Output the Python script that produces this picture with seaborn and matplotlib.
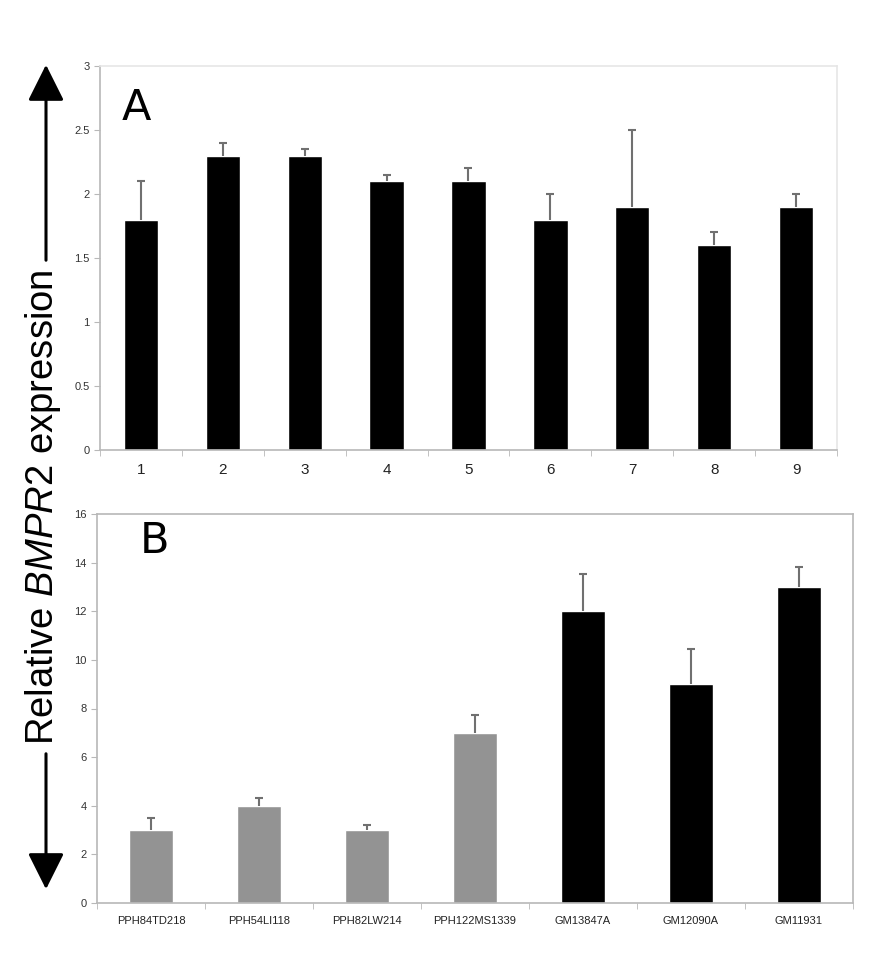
import numpy as np
import pandas as pd
import matplotlib
matplotlib.use("Agg")
import matplotlib.pyplot as plt
import seaborn as sns

# Panel A data
a_labels = ["1", "2", "3", "4", "5", "6", "7", "8", "9"]
a_values = [1.8, 2.3, 2.3, 2.1, 2.1, 1.8, 1.9, 1.6, 1.9]
a_errors = [0.3, 0.1, 0.05, 0.05, 0.1, 0.2, 0.6, 0.1, 0.1]

# Panel B data
b_labels = ["PPH84TD218", "PPH54LI118", "PPH82LW214", "PPH122MS1339",
            "GM13847A", "GM12090A", "GM11931"]
b_values = [3, 4, 3, 7, 12, 9, 13]
b_errors = [0.5, 0.3, 0.2, 0.75, 1.55, 1.45, 0.8]
b_groups = ["patient", "patient", "patient", "patient", "control", "control", "control"]

sns.set_style("white")
plt.rcParams["font.family"] = ["Liberation Sans", "DejaVu Sans"]
plt.rcParams["mathtext.fontset"] = "custom"
plt.rcParams["mathtext.rm"] = "Liberation Sans"
plt.rcParams["mathtext.it"] = "Liberation Sans:italic"

fig = plt.figure(figsize=(8.87, 9.68), dpi=100)
W, H = 887, 968
axA = fig.add_axes([100 / W, 1 - 450 / H, 737 / W, 384 / H])
axB = fig.add_axes([97 / W, 1 - 903 / H, 756 / W, 389 / H])

spine_col = "#b8b8b8"


def style_axis(ax, n, ymax, ystep, fmt, xfs):
    ax.set_xlim(-0.5, n - 0.5)
    ax.set_ylim(0, ymax)
    ticks = np.arange(0, ymax + ystep / 2, ystep)
    ax.set_yticks(ticks)
    ax.set_yticklabels([fmt(t) for t in ticks], fontsize=8, color="#333333")
    ax.set_xticks(np.arange(-0.5, n, 1.0), minor=True)
    ax.tick_params(axis="x", which="major", length=0, pad=9, labelsize=xfs,
                   labelcolor="#222222")
    ax.tick_params(axis="x", which="minor", length=4, color=spine_col, bottom=True)
    ax.tick_params(axis="y", length=4, color=spine_col, left=True)
    for s in ax.spines.values():
        s.set_color(spine_col)
        s.set_linewidth(1.2)
    ax.set_xlabel("")
    ax.set_ylabel("")


def upper_errors(ax, values, errors):
    # only the upper half of each error bar, like the original
    _, caps, _ = ax.errorbar(np.arange(len(values)), values,
                             yerr=[np.zeros(len(errors)), errors],
                             fmt="none", ecolor="#707070", elinewidth=1.5,
                             capsize=3, capthick=1.5)
    caps[0].set_visible(False)


# Panel A
dfA = pd.DataFrame({"label": a_labels, "value": a_values})
sns.barplot(data=dfA, x="label", y="value", color="black", width=0.42,
            saturation=1, ax=axA)
upper_errors(axA, a_values, a_errors)
style_axis(axA, len(a_labels), 3, 0.5, lambda t: f"{t:g}", 11)
axA.spines["top"].set_color("#e6e6e6")
axA.spines["right"].set_color("#e6e6e6")
axA.text(0.03, 0.86, "A", transform=axA.transAxes, fontsize=31,
         color="black", fontfamily="DejaVu Sans")

# Panel B
dfB = pd.DataFrame({"label": b_labels, "value": b_values, "group": b_groups})
sns.barplot(data=dfB, x="label", y="value", hue="group",
            palette={"patient": "#939393", "control": "black"},
            width=0.4, dodge=False, saturation=1, legend=False, ax=axB)
upper_errors(axB, b_values, b_errors)
style_axis(axB, len(b_labels), 16, 2, lambda t: f"{t:g}", 8)
axB.text(0.057, 0.90, "B", transform=axB.transAxes, fontsize=31,
         color="black", fontfamily="DejaVu Sans")

# Double-headed arrow with the shared y label
x_arr = 46 / W
fig.patches.append(matplotlib.patches.FancyArrowPatch(
    (x_arr, 1 - 263 / H), (x_arr, 1 - 62 / H), transform=fig.transFigure,
    arrowstyle="-|>,head_length=1.6,head_width=0.8", lw=2.2, color="black",
    mutation_scale=14))
fig.patches.append(matplotlib.patches.FancyArrowPatch(
    (x_arr, 1 - 751 / H), (x_arr, 1 - 892 / H), transform=fig.transFigure,
    arrowstyle="-|>,head_length=1.6,head_width=0.8", lw=2.2, color="black",
    mutation_scale=14))
fig.text(43 / W, 1 - 507 / H, r"Relative $\mathit{BMPR2}$ expression",
         rotation=90, ha="center", va="center", fontsize=27.5, color="black")

fig.savefig("out.png", dpi=100)
